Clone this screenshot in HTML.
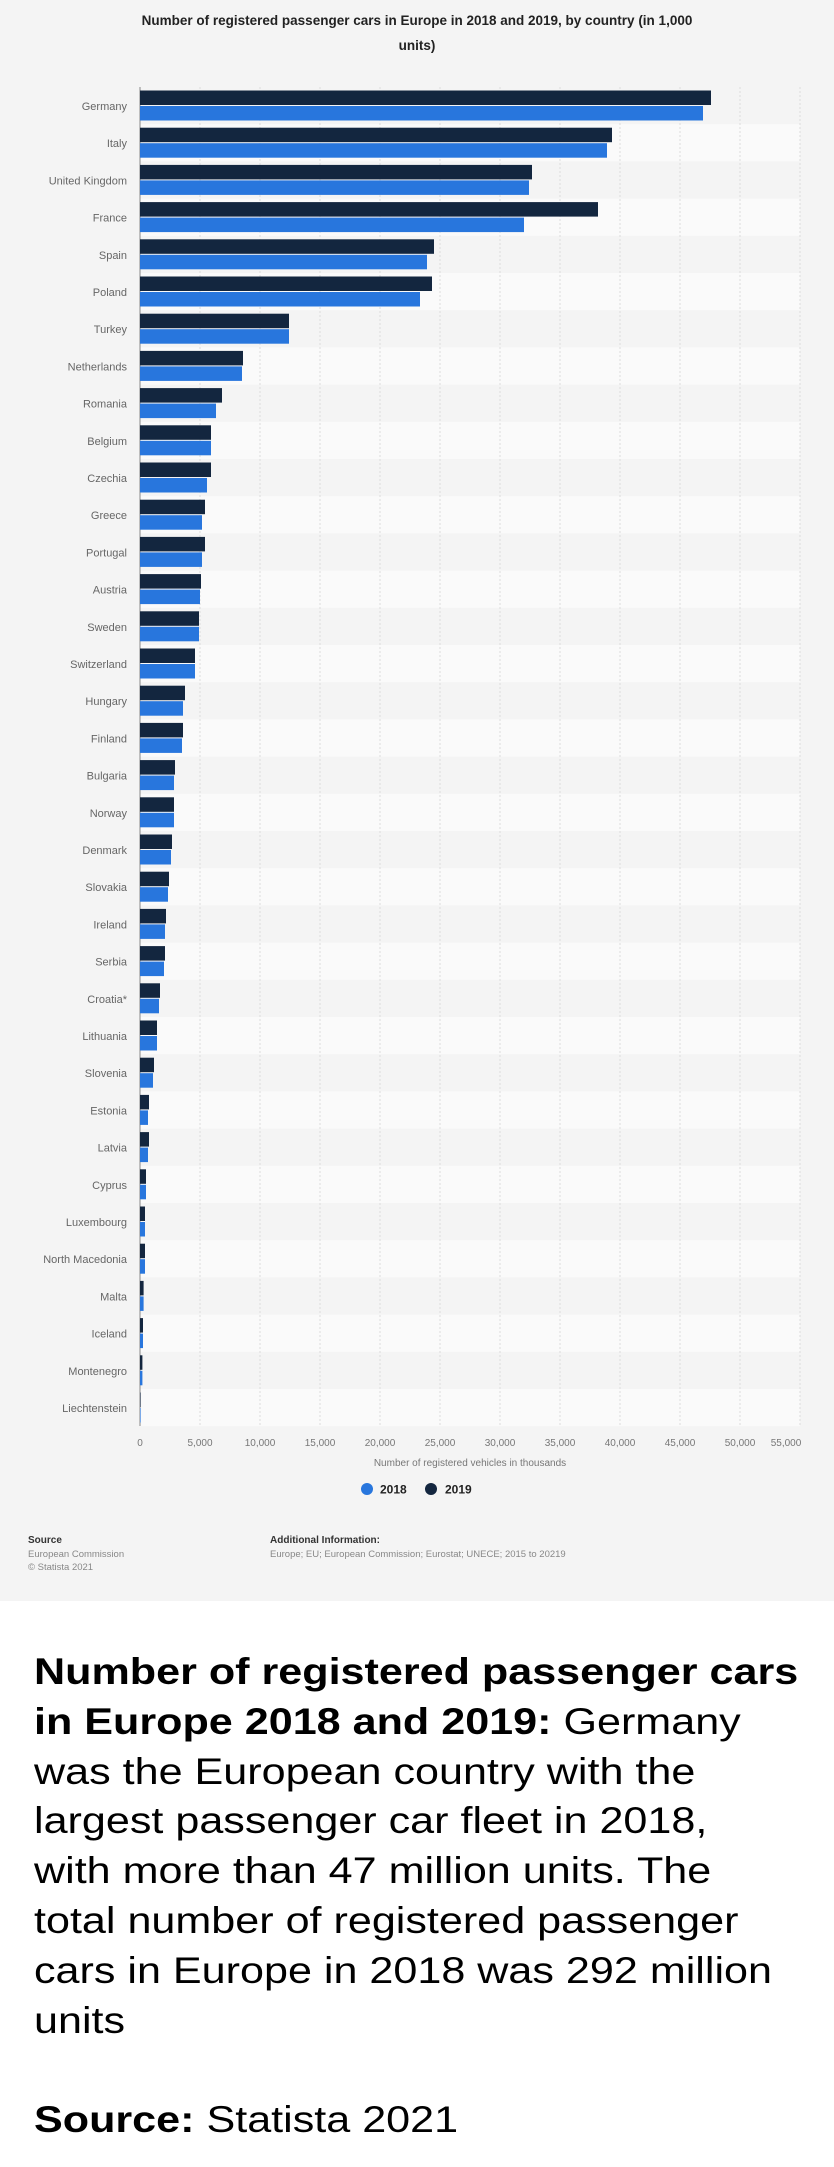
<!DOCTYPE html>
<html><head><meta charset="utf-8"><style>
html,body{margin:0;padding:0;width:834px;height:2167px;background:#fff;overflow:hidden}
.chart{position:absolute;left:0;top:0;width:834px;height:1601px;background:#f4f4f4}
svg text{font-family:"Liberation Sans",sans-serif}
.desc{position:absolute;left:34px;top:1647px;font-family:"Liberation Sans",sans-serif;font-size:37px;line-height:49.8px;color:#000;white-space:nowrap;transform:scaleX(1.165);transform-origin:0 0}
.desc b{font-weight:bold}
</style></head><body>
<div class="chart">
<svg width="834" height="1601" xmlns="http://www.w3.org/2000/svg">
<text x="417" y="25" text-anchor="middle" font-size="13.5" font-weight="bold" fill="#222">Number of registered passenger cars in Europe in 2018 and 2019, by country (in 1,000</text>
<text x="417" y="50" text-anchor="middle" font-size="13.5" font-weight="bold" fill="#222">units)</text>
<g fill="#fafafa">
<rect x="140" y="124.2" width="660" height="37.2"/><rect x="140" y="198.6" width="660" height="37.2"/><rect x="140" y="273" width="660" height="37.2"/><rect x="140" y="347.4" width="660" height="37.2"/><rect x="140" y="421.8" width="660" height="37.2"/><rect x="140" y="496.2" width="660" height="37.2"/><rect x="140" y="570.6" width="660" height="37.2"/><rect x="140" y="645" width="660" height="37.2"/><rect x="140" y="719.4" width="660" height="37.2"/><rect x="140" y="793.8" width="660" height="37.2"/><rect x="140" y="868.2" width="660" height="37.2"/><rect x="140" y="942.6" width="660" height="37.2"/><rect x="140" y="1017" width="660" height="37.2"/><rect x="140" y="1091.4" width="660" height="37.2"/><rect x="140" y="1165.8" width="660" height="37.2"/><rect x="140" y="1240.2" width="660" height="37.2"/><rect x="140" y="1314.6" width="660" height="37.2"/><rect x="140" y="1389" width="660" height="37.2"/>
</g>
<g stroke="#dcdcdc" stroke-width="1" stroke-dasharray="2,2">
<line x1="200" y1="87" x2="200" y2="1426"/><line x1="260" y1="87" x2="260" y2="1426"/><line x1="320" y1="87" x2="320" y2="1426"/><line x1="380" y1="87" x2="380" y2="1426"/><line x1="440" y1="87" x2="440" y2="1426"/><line x1="500" y1="87" x2="500" y2="1426"/><line x1="560" y1="87" x2="560" y2="1426"/><line x1="620" y1="87" x2="620" y2="1426"/><line x1="680" y1="87" x2="680" y2="1426"/><line x1="740" y1="87" x2="740" y2="1426"/><line x1="800" y1="87" x2="800" y2="1426"/>
</g>
<line x1="140" y1="87" x2="140" y2="1426" stroke="#888" stroke-width="1"/>
<g font-size="11" fill="#666" text-anchor="end">
<g transform="translate(0,87)"><text x="127" y="23">Germany</text><rect x="140" y="3.5" width="571" height="14.5" fill="#13263f"/><rect x="140" y="19" width="563" height="14.5" fill="#2876dd"/></g>
<g transform="translate(0,124.2)"><text x="127" y="23">Italy</text><rect x="140" y="3.5" width="472" height="14.5" fill="#13263f"/><rect x="140" y="19" width="467" height="14.5" fill="#2876dd"/></g>
<g transform="translate(0,161.4)"><text x="127" y="23">United Kingdom</text><rect x="140" y="3.5" width="392" height="14.5" fill="#13263f"/><rect x="140" y="19" width="389" height="14.5" fill="#2876dd"/></g>
<g transform="translate(0,198.6)"><text x="127" y="23">France</text><rect x="140" y="3.5" width="458" height="14.5" fill="#13263f"/><rect x="140" y="19" width="384" height="14.5" fill="#2876dd"/></g>
<g transform="translate(0,235.8)"><text x="127" y="23">Spain</text><rect x="140" y="3.5" width="294" height="14.5" fill="#13263f"/><rect x="140" y="19" width="287" height="14.5" fill="#2876dd"/></g>
<g transform="translate(0,273)"><text x="127" y="23">Poland</text><rect x="140" y="3.5" width="292" height="14.5" fill="#13263f"/><rect x="140" y="19" width="280" height="14.5" fill="#2876dd"/></g>
<g transform="translate(0,310.2)"><text x="127" y="23">Turkey</text><rect x="140" y="3.5" width="149" height="14.5" fill="#13263f"/><rect x="140" y="19" width="149" height="14.5" fill="#2876dd"/></g>
<g transform="translate(0,347.4)"><text x="127" y="23">Netherlands</text><rect x="140" y="3.5" width="103" height="14.5" fill="#13263f"/><rect x="140" y="19" width="102" height="14.5" fill="#2876dd"/></g>
<g transform="translate(0,384.6)"><text x="127" y="23">Romania</text><rect x="140" y="3.5" width="82" height="14.5" fill="#13263f"/><rect x="140" y="19" width="76" height="14.5" fill="#2876dd"/></g>
<g transform="translate(0,421.8)"><text x="127" y="23">Belgium</text><rect x="140" y="3.5" width="71" height="14.5" fill="#13263f"/><rect x="140" y="19" width="71" height="14.5" fill="#2876dd"/></g>
<g transform="translate(0,459)"><text x="127" y="23">Czechia</text><rect x="140" y="3.5" width="71" height="14.5" fill="#13263f"/><rect x="140" y="19" width="67" height="14.5" fill="#2876dd"/></g>
<g transform="translate(0,496.2)"><text x="127" y="23">Greece</text><rect x="140" y="3.5" width="65" height="14.5" fill="#13263f"/><rect x="140" y="19" width="62" height="14.5" fill="#2876dd"/></g>
<g transform="translate(0,533.4)"><text x="127" y="23">Portugal</text><rect x="140" y="3.5" width="65" height="14.5" fill="#13263f"/><rect x="140" y="19" width="62" height="14.5" fill="#2876dd"/></g>
<g transform="translate(0,570.6)"><text x="127" y="23">Austria</text><rect x="140" y="3.5" width="61" height="14.5" fill="#13263f"/><rect x="140" y="19" width="60" height="14.5" fill="#2876dd"/></g>
<g transform="translate(0,607.8)"><text x="127" y="23">Sweden</text><rect x="140" y="3.5" width="59" height="14.5" fill="#13263f"/><rect x="140" y="19" width="59" height="14.5" fill="#2876dd"/></g>
<g transform="translate(0,645)"><text x="127" y="23">Switzerland</text><rect x="140" y="3.5" width="55" height="14.5" fill="#13263f"/><rect x="140" y="19" width="55" height="14.5" fill="#2876dd"/></g>
<g transform="translate(0,682.2)"><text x="127" y="23">Hungary</text><rect x="140" y="3.5" width="45" height="14.5" fill="#13263f"/><rect x="140" y="19" width="43" height="14.5" fill="#2876dd"/></g>
<g transform="translate(0,719.4)"><text x="127" y="23">Finland</text><rect x="140" y="3.5" width="43" height="14.5" fill="#13263f"/><rect x="140" y="19" width="42" height="14.5" fill="#2876dd"/></g>
<g transform="translate(0,756.6)"><text x="127" y="23">Bulgaria</text><rect x="140" y="3.5" width="35" height="14.5" fill="#13263f"/><rect x="140" y="19" width="34" height="14.5" fill="#2876dd"/></g>
<g transform="translate(0,793.8)"><text x="127" y="23">Norway</text><rect x="140" y="3.5" width="34" height="14.5" fill="#13263f"/><rect x="140" y="19" width="34" height="14.5" fill="#2876dd"/></g>
<g transform="translate(0,831)"><text x="127" y="23">Denmark</text><rect x="140" y="3.5" width="32" height="14.5" fill="#13263f"/><rect x="140" y="19" width="31" height="14.5" fill="#2876dd"/></g>
<g transform="translate(0,868.2)"><text x="127" y="23">Slovakia</text><rect x="140" y="3.5" width="29" height="14.5" fill="#13263f"/><rect x="140" y="19" width="28" height="14.5" fill="#2876dd"/></g>
<g transform="translate(0,905.4)"><text x="127" y="23">Ireland</text><rect x="140" y="3.5" width="26" height="14.5" fill="#13263f"/><rect x="140" y="19" width="25" height="14.5" fill="#2876dd"/></g>
<g transform="translate(0,942.6)"><text x="127" y="23">Serbia</text><rect x="140" y="3.5" width="25" height="14.5" fill="#13263f"/><rect x="140" y="19" width="24" height="14.5" fill="#2876dd"/></g>
<g transform="translate(0,979.8)"><text x="127" y="23">Croatia*</text><rect x="140" y="3.5" width="20" height="14.5" fill="#13263f"/><rect x="140" y="19" width="19" height="14.5" fill="#2876dd"/></g>
<g transform="translate(0,1017)"><text x="127" y="23">Lithuania</text><rect x="140" y="3.5" width="17" height="14.5" fill="#13263f"/><rect x="140" y="19" width="17" height="14.5" fill="#2876dd"/></g>
<g transform="translate(0,1054.2)"><text x="127" y="23">Slovenia</text><rect x="140" y="3.5" width="14" height="14.5" fill="#13263f"/><rect x="140" y="19" width="13" height="14.5" fill="#2876dd"/></g>
<g transform="translate(0,1091.4)"><text x="127" y="23">Estonia</text><rect x="140" y="3.5" width="9" height="14.5" fill="#13263f"/><rect x="140" y="19" width="8" height="14.5" fill="#2876dd"/></g>
<g transform="translate(0,1128.6)"><text x="127" y="23">Latvia</text><rect x="140" y="3.5" width="9" height="14.5" fill="#13263f"/><rect x="140" y="19" width="8" height="14.5" fill="#2876dd"/></g>
<g transform="translate(0,1165.8)"><text x="127" y="23">Cyprus</text><rect x="140" y="3.5" width="6" height="14.5" fill="#13263f"/><rect x="140" y="19" width="6" height="14.5" fill="#2876dd"/></g>
<g transform="translate(0,1203)"><text x="127" y="23">Luxembourg</text><rect x="140" y="3.5" width="5" height="14.5" fill="#13263f"/><rect x="140" y="19" width="5" height="14.5" fill="#2876dd"/></g>
<g transform="translate(0,1240.2)"><text x="127" y="23">North Macedonia</text><rect x="140" y="3.5" width="5" height="14.5" fill="#13263f"/><rect x="140" y="19" width="5" height="14.5" fill="#2876dd"/></g>
<g transform="translate(0,1277.4)"><text x="127" y="23">Malta</text><rect x="140" y="3.5" width="3.6" height="14.5" fill="#13263f"/><rect x="140" y="19" width="3.6" height="14.5" fill="#2876dd"/></g>
<g transform="translate(0,1314.6)"><text x="127" y="23">Iceland</text><rect x="140" y="3.5" width="3" height="14.5" fill="#13263f"/><rect x="140" y="19" width="3" height="14.5" fill="#2876dd"/></g>
<g transform="translate(0,1351.8)"><text x="127" y="23">Montenegro</text><rect x="140" y="3.5" width="2.4" height="14.5" fill="#13263f"/><rect x="140" y="19" width="2.4" height="14.5" fill="#2876dd"/></g>
<g transform="translate(0,1389)"><text x="127" y="23">Liechtenstein</text><rect x="140" y="3.5" width="0.6" height="14.5" fill="#13263f"/><rect x="140" y="19" width="0.6" height="14.5" fill="#2876dd"/></g>
</g>
<g font-size="10" fill="#777" text-anchor="middle">
<text x="140" y="1446">0</text><text x="200" y="1446">5,000</text><text x="260" y="1446">10,000</text><text x="320" y="1446">15,000</text><text x="380" y="1446">20,000</text><text x="440" y="1446">25,000</text><text x="500" y="1446">30,000</text><text x="560" y="1446">35,000</text><text x="620" y="1446">40,000</text><text x="680" y="1446">45,000</text><text x="740" y="1446">50,000</text><text x="786" y="1446">55,000</text>
<text x="470" y="1466" font-size="10">Number of registered vehicles in thousands</text>
</g>
<circle cx="367" cy="1489" r="6" fill="#2876dd"/>
<text x="380" y="1493.5" font-size="12" font-weight="bold" fill="#222">2018</text>
<circle cx="431" cy="1489" r="6" fill="#13263f"/>
<text x="445" y="1493.5" font-size="12" font-weight="bold" fill="#222">2019</text>
<text x="28" y="1543" font-size="10" font-weight="bold" fill="#333">Source</text>
<text x="28" y="1557" font-size="9.5" fill="#888">European Commission</text>
<text x="28" y="1570" font-size="9.5" fill="#888">© Statista 2021</text>
<text x="270" y="1543" font-size="10" font-weight="bold" fill="#333">Additional Information:</text>
<text x="270" y="1557" font-size="9.5" fill="#888">Europe; EU; European Commission; Eurostat; UNECE; 2015 to 20219</text>
</svg>
</div>
<div class="desc"><b>Number of registered passenger cars</b><br><b>in Europe 2018 and 2019:</b> Germany<br>was the European country with the<br>largest passenger car fleet in 2018,<br>with more than 47 million units. The<br>total number of registered passenger<br>cars in Europe in 2018 was 292 million<br>units<br><br><b>Source:</b> Statista 2021</div>
</body></html>
